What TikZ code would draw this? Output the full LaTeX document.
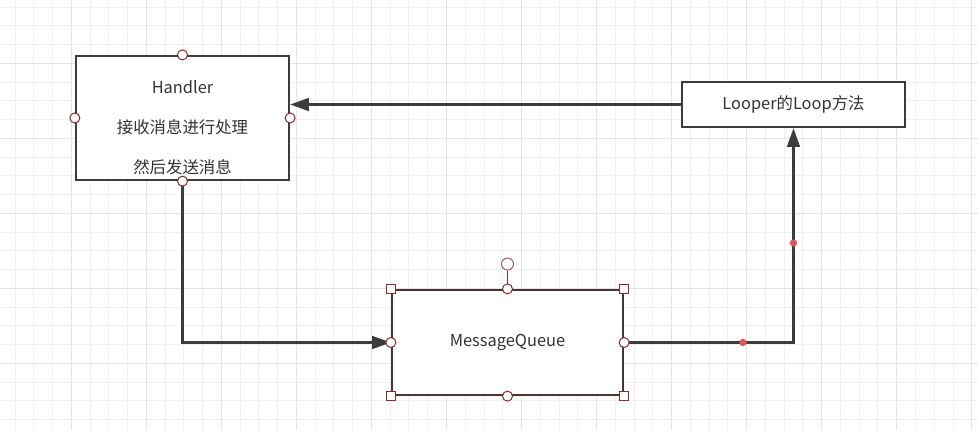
\documentclass[tikz,border=0pt]{standalone}
\usepackage{fontspec}
\setmainfont{Noto Sans CJK SC}
\usetikzlibrary{arrows.meta,positioning,calc}
\definecolor{ink}{HTML}{3C3C3C}
\definecolor{txt}{HTML}{333333}
\definecolor{gridminor}{HTML}{F0F0F0}
\definecolor{gridmajor}{HTML}{E4E4E4}
\definecolor{handle}{HTML}{8E2B2B}
\definecolor{rot}{HTML}{A55A5A}
\definecolor{dot}{HTML}{E05555}
\definecolor{selborder}{HTML}{4A3434}
\tikzset{
  box/.style={
    draw=ink, fill=white, line width=1.7pt,
    inner sep=0pt, align=center,
    font=\fontsize{12.3}{30}\selectfont, text=txt
  },
  arrow/.style={-{Triangle[length=14pt,width=9.5pt]}, line width=1.7pt, draw=ink},
  handlept/.style={circle, draw=handle, fill=white, line width=0.75pt,
    inner sep=0pt, minimum size=7.5pt},
  cornerpt/.style={rectangle, draw=handle, fill=white, line width=0.75pt,
    inner sep=0pt, minimum size=7pt},
  waypoint/.style={circle, fill=dot, inner sep=0pt, minimum size=5.5pt}
}
\begin{document}
\begin{tikzpicture}[x=0.75pt,y=-0.75pt]
        \useasboundingbox[fill=white] (0,0) rectangle (978,430);
        \foreach \i in {0,...,51}
          \draw[gridminor, line width=0.75pt] ({15+18.76*\i},0) -- ({15+18.76*\i},430);
        \foreach \j in {0,...,22}
          \draw[gridminor, line width=0.75pt] (0,{7+18.76*\j}) -- (978,{7+18.76*\j});
        \foreach \i in {3,7,...,51}
          \draw[gridmajor, line width=0.75pt] ({15+18.76*\i},0) -- ({15+18.76*\i},430);
        \foreach \j in {3,7,...,19}
          \draw[gridmajor, line width=0.75pt] (0,{7+18.76*\j}) -- (978,{7+18.76*\j});
        \node[box, minimum width=159.75pt, minimum height=93pt] (handler) at (182.5,118) {};
        \node[font=\fontsize{12.3}{30}\selectfont, text=txt, align=center] (handlertext) at (182.5,128)
          {Handler\\接收消息进行处理\\然后发送消息};
        \node[box, minimum width=167.25pt, minimum height=33.75pt] (looper) at (793.5,104.5)
          {Looper的Loop方法};
        \node[box, draw=selborder, minimum width=173.25pt, minimum height=78.75pt] (mq) at (507.5,342.5)
          {MessageQueue};
        \draw[arrow] (looper.west) -- (looper.west -| handler.east);
        \draw[arrow] (handler.south) |- (mq.west);
        \draw[arrow] (mq.east) -| (looper.south);
        \node[waypoint] (wp1) at (743,342.5) {};
        \node[waypoint] (wp2) at (793.5,243) {};
        \foreach \a in {north,south,west,east}
          \node[handlept] at (handler.\a) {};
        \node[circle, draw=rot, fill=white, line width=0.75pt, inner sep=0pt, minimum size=9pt] (rotate) at (507.5,264) {};
        \draw[handle, line width=0.75pt] (rotate) -- (mq.north);
        \foreach \a in {north,south,west,east}
          \node[handlept] at (mq.\a) {};
        \foreach \a in {north west,north east,south west,south east}
          \node[cornerpt] at (mq.\a) {};
      \end{tikzpicture}
\end{document}
